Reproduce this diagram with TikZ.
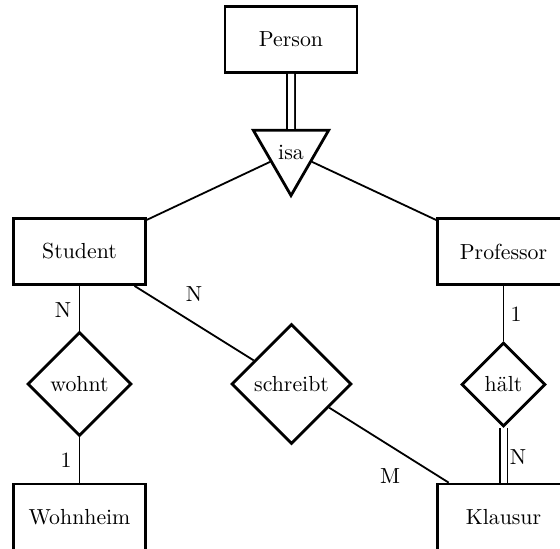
\documentclass[tikz,border=0pt]{standalone}
\usetikzlibrary{shapes.geometric}

\tikzset{
  entity/.style={draw, line width=1.4pt, minimum width=66pt, minimum height=33pt},
  relation/.style={draw, line width=1.4pt, diamond, aspect=1, inner sep=0pt},
  isarel/.style={draw, line width=1.4pt, regular polygon, regular polygon sides=3, shape border rotate=180, minimum size=43.5pt, inner sep=0pt},
  link/.style={line width=0.9pt},
  total/.style={line width=0.9pt, double, double distance=3pt},
  card/.style={inner sep=0pt}
}

\begin{document}
\begin{tikzpicture}[x=0.5pt,y=-0.5pt,font=\fontsize{10.9}{13}\selectfont]
\useasboundingbox (0,0) rectangle (560,548);
\clip (0,0) rectangle (560,548);

%Shape: Entities
\node[entity] (person) at (291,39.5) {Person};
\node[entity] (student) at (79.5,251.5) {Student};
\node[entity] (professor) at (503.5,251.5) {Professor};
\node[entity] (wohnheim) at (79.5,517) {Wohnheim};
\node[entity] (klausur) at (503.5,517) {Klausur};

%Shape: Triangle
\node[isarel] (isa) at (291,152) {isa};

%Shape: Diamonds
\node[relation, minimum size=52pt] (wohnt) at (79.5,384) {wohnt};
\node[relation, minimum size=60pt] (schreibt) at (291.5,384) {schreibt};
\node[relation, minimum size=42pt] (haelt) at (503.5,384.5) {hält};

%Straight Lines
\draw[total] (person) -- (isa);
\draw[link] (isa) -- (student);
\draw[link] (isa) -- (professor);
\draw[link] (student) -- (wohnt);
\draw[link] (wohnt) -- (wohnheim);
\draw[link] (student) -- (schreibt);
\draw[link] (schreibt) -- (klausur);
\draw[link] (professor) -- (haelt);
\draw[total] (haelt) -- (klausur);

% Text Node
\node[card] (nwohnt) at (63,310) {N};
% Text Node
\node[card] (einswohnt) at (66,460) {1};
% Text Node
\node[card] (nschreibt) at (194,294) {N};
% Text Node
\node[card] (mschreibt) at (390,476) {M};
% Text Node
\node[card] (einshaelt) at (516,314) {1};
% Text Node
\node[card] (nhaelt) at (518,457) {N};

\end{tikzpicture}
\end{document}
